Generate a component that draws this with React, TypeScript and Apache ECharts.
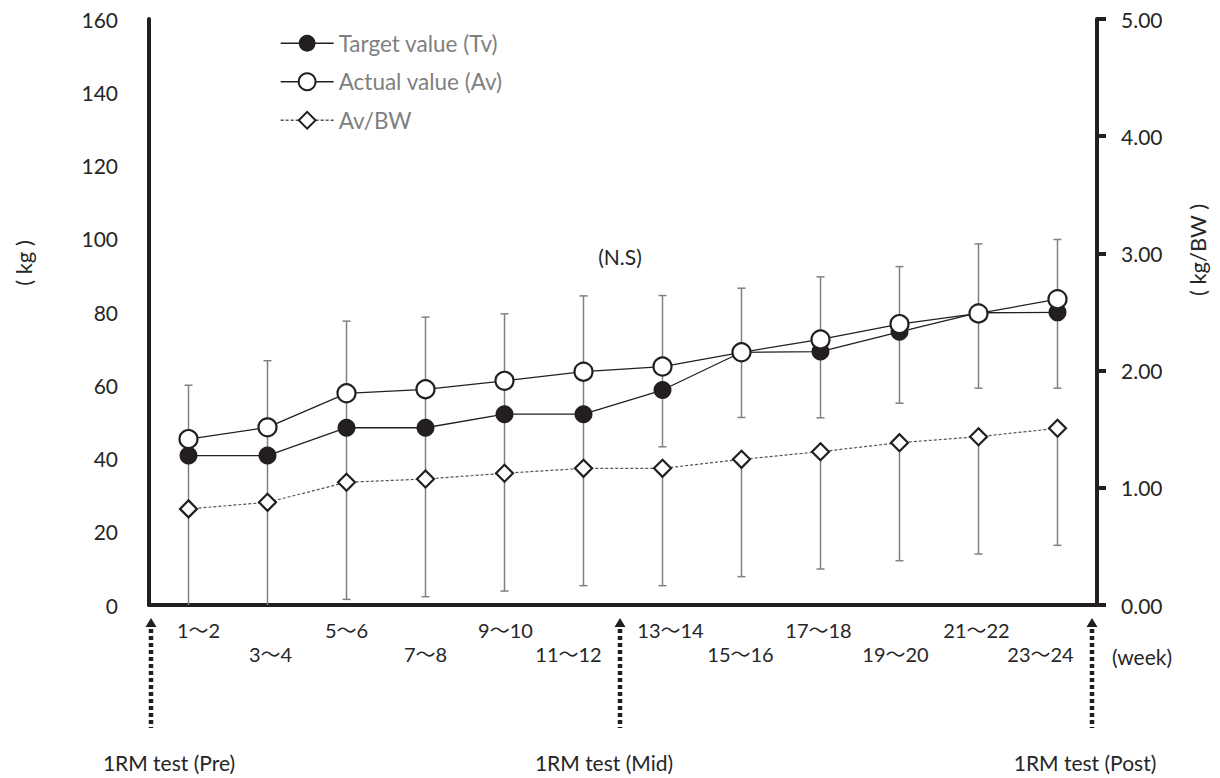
import React, { useEffect, useRef } from 'react';
import * as echarts from 'echarts';

const categories = ['1〜2', '3〜4', '5〜6', '7〜8', '9〜10', '11〜12', '13〜14', '15〜16', '17〜18', '19〜20', '21〜22', '23〜24'];
const targetKg = [40.8, 40.8, 48.4, 48.4, 52.1, 52.1, 58.7, 69.0, 69.2, 74.6, 79.8, 79.9];
const actualKg = [45.3, 48.5, 57.8, 58.9, 61.2, 63.7, 65.1, 69.0, 72.5, 76.7, 79.6, 83.5];
const avPerBw = [0.82, 0.876, 1.047, 1.075, 1.124, 1.166, 1.166, 1.243, 1.308, 1.385, 1.436, 1.508];
const kgErrTop = [60.0, 66.7, 77.5, 78.6, 79.5, 84.4, 84.5, 86.5, 89.6, 92.4, 98.6, 99.8];
const kgErrBottom: (number | null)[] = [null, null, null, null, null, null, 43.2, 51.2, 51.1, 55.1, 59.2, 59.2];
const ratioErrBottom = [-0.1, -0.1, 0.048, 0.071, 0.119, 0.165, 0.165, 0.242, 0.307, 0.378, 0.435, 0.509];
const leftTicks = { min: 0, max: 160, interval: 20 };
const rightTicks = { min: 0, max: 5, interval: 1 };
const seriesNames = ['Target value (Tv)', 'Actual value (Av)', 'Av/BW'];
const testLabels = ['1RM test (Pre)', '1RM test (Mid)', '1RM test (Post)'];

export default function App() {
  const ref = useRef<HTMLDivElement>(null);
  useEffect(() => {
    if (!ref.current) return;
    document.body.style.margin = '0';
    const chart = echarts.init(ref.current, null, { renderer: 'svg' });
    const FONT = 'Lato, "Noto Sans CJK JP", sans-serif';
    const ink = '#231f20';
    const txt = '#262626';
    const barColor = '#808080';
    const kgPerRatio = leftTicks.max / rightTicks.max;
    // horizontal nudges (px) of the week labels, as placed in the original figure
    const labelShift = [10, 3, 0, 0, 1, -15, 8, -1, -2, -4, -2, -17];
    const rich: Record<string, any> = {};
    labelShift.forEach((d, i) => {
      rich['r' + i] = {
        fontSize: 20,
        lineHeight: 24,
        color: txt,
        fontFamily: FONT,
        padding: d >= 0 ? [0, 0, 0, 2 * d] : [0, -2 * d, 0, 0],
      };
    });

    const capLine = (x: number, y: number) => ({
      type: 'line',
      shape: { x1: x - 4, y1: y, x2: x + 4, y2: y },
      style: { stroke: barColor, lineWidth: 1.5 },
    });

    const arrow = (x: number) => ({
      type: 'group',
      children: [
        { type: 'polygon', shape: { points: [[x, 618], [x - 5.5, 627], [x + 5.5, 627]] }, style: { fill: ink } },
        { type: 'line', shape: { x1: x, y1: 629, x2: x, y2: 728 }, style: { stroke: ink, lineWidth: 4.5, lineDash: [4, 3] } },
      ],
    });

    chart.setOption({
      animation: false,
      backgroundColor: '#fff',
      textStyle: { fontFamily: FONT },
      grid: { left: 149, right: 123, top: 19, bottom: 173 },
      legend: {
        orient: 'vertical',
        left: 275,
        top: 27,
        itemWidth: 53,
        itemHeight: 21,
        itemGap: 16,
        data: seriesNames,
        textStyle: { color: '#7f7f7f', fontSize: 22.5, fontFamily: FONT },
        lineStyle: { width: 1.3 },
        selectedMode: false,
      },
      xAxis: {
        type: 'category',
        data: categories,
        boundaryGap: true,
        axisLine: { show: true, lineStyle: { color: ink, width: 4 } },
        axisTick: { show: false },
        axisLabel: {
          interval: 0,
          margin: 13,
          color: txt,
          fontSize: 20,
          lineHeight: 24,
          fontFamily: FONT,
          rich,
          formatter: (v: string, i: number) => (i % 2 === 0 ? `{r${i}|${v}}` : `\n{r${i}|${v}}`),
        },
        splitLine: { show: false },
      },
      yAxis: [
        {
          type: 'value',
          min: leftTicks.min,
          max: leftTicks.max,
          interval: leftTicks.interval,
          position: 'left',
          axisLine: { show: true, lineStyle: { color: ink, width: 4 } },
          axisTick: { show: false },
          splitLine: { show: false },
          axisLabel: { color: txt, fontSize: 21, margin: 31, fontFamily: FONT },
        },
        {
          type: 'value',
          min: rightTicks.min,
          max: rightTicks.max,
          interval: rightTicks.interval,
          position: 'right',
          axisLine: { show: true, lineStyle: { color: ink, width: 4 } },
          axisTick: { show: true, inside: false, length: 9, lineStyle: { color: ink, width: 4 } },
          splitLine: { show: false },
          axisLabel: { color: txt, fontSize: 21, margin: 24, fontFamily: FONT, formatter: (v: number) => v.toFixed(2) },
        },
      ],
      series: [
        {
          type: 'custom',
          name: 'kgErr',
          yAxisIndex: 0,
          z: 1,
          silent: true,
          data: categories.map((_, i) => [i, kgErrTop[i]]),
          encode: { x: 0, y: 1 },
          renderItem: (params: any, api: any) => {
            const i = params.dataIndex;
            const top = api.coord([i, kgErrTop[i]]);
            const low = kgErrBottom[i];
            const bottom = api.coord([i, low != null ? low : avPerBw[i] * kgPerRatio]);
            const children: any[] = [
              { type: 'line', shape: { x1: top[0], y1: top[1], x2: bottom[0], y2: bottom[1] }, style: { stroke: barColor, lineWidth: 1.5 } },
              capLine(top[0], top[1]),
            ];
            if (low != null) children.push(capLine(bottom[0], bottom[1]));
            return { type: 'group', children };
          },
        },
        {
          type: 'custom',
          name: 'ratioErr',
          yAxisIndex: 1,
          z: 1,
          clip: true,
          silent: true,
          data: categories.map((_, i) => [i, avPerBw[i], ratioErrBottom[i]]),
          encode: { x: 0, y: [1, 2] },
          renderItem: (params: any, api: any) => {
            const i = params.dataIndex;
            const top = api.coord([i, avPerBw[i]]);
            const bottom = api.coord([i, Math.max(ratioErrBottom[i], 0)]);
            const children: any[] = [
              { type: 'line', shape: { x1: top[0], y1: top[1], x2: bottom[0], y2: bottom[1] }, style: { stroke: barColor, lineWidth: 1.5 } },
            ];
            if (ratioErrBottom[i] >= 0) children.push(capLine(bottom[0], bottom[1]));
            return { type: 'group', children };
          },
        },
        {
          type: 'line',
          name: seriesNames[0],
          yAxisIndex: 0,
          z: 3,
          data: targetKg,
          symbol: 'circle',
          symbolSize: 18,
          itemStyle: { color: ink, borderColor: ink, borderWidth: 0 },
          lineStyle: { color: ink, width: 1.3 },
        },
        {
          type: 'line',
          name: seriesNames[1],
          yAxisIndex: 0,
          z: 4,
          data: actualKg,
          symbol: 'circle',
          symbolSize: 18,
          itemStyle: { color: '#ffffff', borderColor: ink, borderWidth: 2.2 },
          lineStyle: { color: ink, width: 1.3 },
        },
        {
          type: 'line',
          name: seriesNames[2],
          yAxisIndex: 1,
          z: 4,
          data: avPerBw,
          symbol: 'diamond',
          symbolSize: 17,
          itemStyle: { color: '#ffffff', borderColor: ink, borderWidth: 2.2 },
          lineStyle: { color: '#555555', width: 1.2, type: [3, 2] },
        },
      ],
      graphic: [
        { type: 'text', x: 23, y: 263, rotation: Math.PI / 2, style: { text: '( kg )', fill: txt, font: `22px ${FONT}`, textAlign: 'center', textVerticalAlign: 'middle' } },
        { type: 'text', x: 1197, y: 250, rotation: Math.PI / 2, style: { text: '( kg/BW )', fill: txt, font: `22px ${FONT}`, textAlign: 'center', textVerticalAlign: 'middle' } },
        { type: 'text', x: 620, y: 256, style: { text: '(N.S)', fill: txt, font: `21px ${FONT}`, textAlign: 'center', textVerticalAlign: 'middle' } },
        { type: 'text', x: 1112, y: 656, style: { text: '(week)', fill: txt, font: `21px ${FONT}`, textAlign: 'left', textVerticalAlign: 'middle' } },
        arrow(151),
        arrow(620),
        arrow(1092),
        { type: 'text', x: 169, y: 762, style: { text: testLabels[0], fill: txt, font: `21px ${FONT}`, textAlign: 'center', textVerticalAlign: 'middle' } },
        { type: 'text', x: 604, y: 762, style: { text: testLabels[1], fill: txt, font: `21px ${FONT}`, textAlign: 'center', textVerticalAlign: 'middle' } },
        { type: 'text', x: 1085, y: 762, style: { text: testLabels[2], fill: txt, font: `21px ${FONT}`, textAlign: 'center', textVerticalAlign: 'middle' } },
      ],
    });
    return () => chart.dispose();
  }, []);
  return <div ref={ref} style={{ position: 'absolute', left: 0, top: 0, width: 1220, height: 778, background: '#fff' }} />;
}
